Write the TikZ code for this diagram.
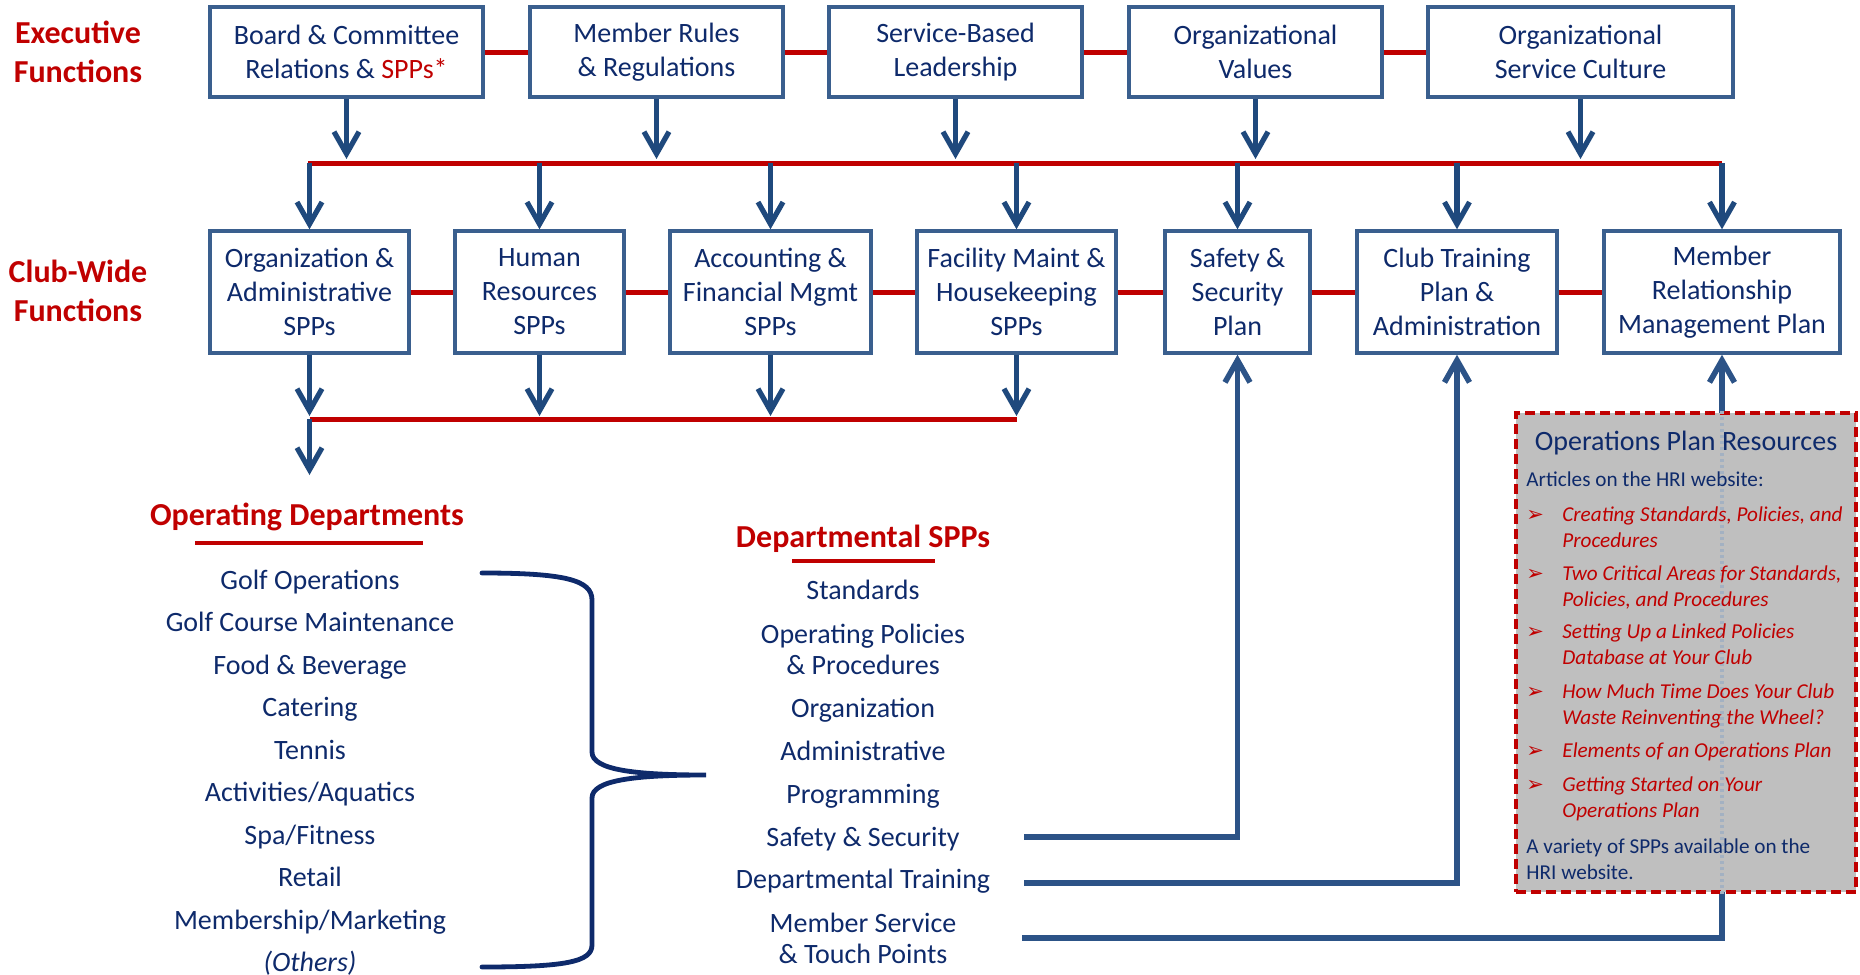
\documentclass[tikz,border=0pt]{standalone}
\usepackage{fontspec}
\setmainfont{Carlito}
\newfontfamily\symfont{DejaVu Sans}
\usetikzlibrary{arrows.meta}
\definecolor{navy}{HTML}{0E2A6B}
\definecolor{hred}{HTML}{C00000}
\definecolor{boxblue}{HTML}{3A5F8E}
\definecolor{arrblue}{HTML}{1F497D}
\definecolor{linkblue}{HTML}{2C5387}
\definecolor{graybg}{HTML}{BFBFBF}
\definecolor{dotgray}{HTML}{A3B1C2}
\begin{document}
\begin{tikzpicture}[x=0.5pt,y=-0.5pt,
 fbox/.style={draw=boxblue,line width=1.7pt,fill=white,align=center,text=navy,
   font=\fontsize{14}{17}\selectfont,inner sep=0pt},
 topbox/.style={fbox,minimum height=45pt},
 clubbox/.style={fbox,minimum height=61pt},
 wd/.style={minimum width=#1*0.5pt},
 redlink/.style={draw=hred,line width=2.5pt},
 arr/.style={draw=arrblue,line width=2.6pt,-{Straight Barb[length=11pt,width=12.5pt]}},
 link/.style={draw=linkblue,line width=2.8pt,-{Straight Barb[length=11pt,width=12.5pt]}},
 sidelabel/.style={text=hred,font=\bfseries\fontsize{16}{19.5}\selectfont,align=center,inner sep=0pt},
 head/.style={text=hred,font=\bfseries\fontsize{16}{19}\selectfont,inner sep=0pt},
 item/.style={text=navy,font=\fontsize{14}{15.5}\selectfont,align=center,inner sep=0pt},
 uline/.style={draw=hred,line width=2pt},
 brace/.style={draw=navy,line width=2.4pt,line cap=round},
 dashbox/.style={draw=hred,line width=2pt,dash pattern=on 5pt off 2.5pt,fill=graybg,inner sep=0pt},
 restext/.style={text=navy,font=\fontsize{10.6}{13}\selectfont,inner sep=0pt,align=left},
 resitem/.style={text=hred,font=\itshape\fontsize{10.6}{13}\selectfont,inner sep=0pt,align=left},
 bullet/.style={text=hred,font=\symfont\fontsize{10.5}{12}\selectfont,inner sep=0pt},
]
\useasboundingbox (0,0) rectangle (1860,975);

% side labels (base = last line baseline)
\node[sidelabel,anchor=base] (exec) at (78,82) {Executive\\Functions};
\node[sidelabel,anchor=base] (clubw) at (78,321) {Club-Wide\\Functions};

% executive boxes
\node[topbox,wd=273] (board) at (346.5,52) {Board \& Committee\\Relations \& \textcolor{hred}{SPPs*}};
\node[topbox,wd=253] (rules) at (656.5,52) {Member Rules\\\& Regulations};
\node[topbox,wd=253] (lead) at (955.5,52) {Service-Based\\Leadership};
\node[topbox,wd=253] (values) at (1255.5,52) {Organizational\\Values};
\node[topbox,wd=305] (culture) at (1580.5,52) {Organizational\\Service Culture};
\draw[redlink] (board.east) -- (rules.west);
\draw[redlink] (rules.east) -- (lead.west);
\draw[redlink] (lead.east) -- (values.west);
\draw[redlink] (values.east) -- (culture.west);

% club-wide boxes
\node[clubbox,wd=199] (orgadm) at (309.5,292) {Organization \&\\Administrative\\SPPs};
\node[clubbox,wd=169] (hr) at (539.5,292) {Human\\Resources\\SPPs};
\node[clubbox,wd=201] (acct) at (770.5,292) {Accounting \&\\Financial Mgmt\\SPPs};
\node[clubbox,wd=199] (facil) at (1016.5,292) {Facility Maint \&\\Housekeeping\\SPPs};
\node[clubbox,wd=145] (safety) at (1237.5,292) {Safety \&\\Security\\Plan};
\node[clubbox,wd=200] (train) at (1457,292) {Club Training\\Plan \&\\Administration};
\node[clubbox,wd=236] (memrel) at (1722,292) {Member\\Relationship\\Management Plan};
\draw[redlink] (orgadm.east) -- (hr.west);
\draw[redlink] (hr.east) -- (acct.west);
\draw[redlink] (acct.east) -- (facil.west);
\draw[redlink] (facil.east) -- (safety.west);
\draw[redlink] (safety.east) -- (train.west);
\draw[redlink] (train.east) -- (memrel.west);

% bus A
\coordinate (busAL) at (308,163);
\coordinate (busAR) at (1722,163);
\coordinate (tipA) at (0,159);
\draw[redlink] (busAL) -- (busAR);
\foreach \n in {board,rules,lead,values,culture}
  \draw[arr] (\n.south) -- (\n.south |- tipA);
\foreach \n in {orgadm,hr,acct,facil,safety,train,memrel}
  \draw[arr] (\n.north |- busAL) -- (\n.north);

% bus B
\coordinate (busBL) at (309.5,419);
\coordinate (busBR) at (1016.5,419);
\coordinate (tipB) at (0,416);
\coordinate (opin) at (309.5,475);
\draw[redlink] (busBL) -- (busBR);
\foreach \n in {orgadm,hr,acct,facil}
  \draw[arr] (\n.south) -- (\n.south |- tipB);
\draw[arr] (busBL) -- (opin);

% operating departments
\node[head,anchor=base] (ophead) at (307,525) {Operating Departments};
\draw[uline] (195,543) -- (423,543);
\node[item,anchor=base] (d1) at (310,589) {Golf Operations};
\node[item,anchor=base] (d2) at (310,631.5) {Golf Course Maintenance};
\node[item,anchor=base] (d3) at (310,674) {Food \& Beverage};
\node[item,anchor=base] (d4) at (310,716.5) {Catering};
\node[item,anchor=base] (d5) at (310,759) {Tennis};
\node[item,anchor=base] (d6) at (310,801.5) {Activities/Aquatics};
\node[item,anchor=base] (d7) at (310,844) {Spa/Fitness};
\node[item,anchor=base] (d8) at (310,886.5) {Retail};
\node[item,anchor=base] (d9) at (310,929) {Membership/Marketing};
\node[item,anchor=base] (d10) at (310,971) {\itshape(Others)};

% brace
\draw[brace] (482,573) .. controls (565,573) and (592,580) .. (592,600)
  -- (592,752) .. controls (592,770) and (635,775) .. (706,775)
  .. controls (635,775) and (592,780) .. (592,798)
  -- (592,945) .. controls (592,962) and (565,967) .. (482,967);

% departmental SPPs
\node[head,anchor=base] (dephead) at (863,547) {Departmental SPPs};
\draw[uline] (792,561) -- (935,561);
\node[item,anchor=base] (s1) at (863,599) {Standards};
\node[item,anchor=base] (s2) at (863,674) {Operating Policies\\\& Procedures};
\node[item,anchor=base] (s3) at (863,717) {Organization};
\node[item,anchor=base] (s4) at (863,760) {Administrative};
\node[item,anchor=base] (s5) at (863,803) {Programming};
\node[item,anchor=base] (s6) at (863,846) {Safety \& Security};
\node[item,anchor=base] (s7) at (863,888) {Departmental Training};
\node[item,anchor=base] (s8) at (863,963) {Member Service\\\& Touch Points};

% links up
\coordinate (l1) at (1024,837);
\coordinate (l2) at (1024,883);
\coordinate (l3) at (1022,938);
\draw[link] (l1) -| (safety.south);
\draw[link] (l2) -| (train.south);
\draw[link] (l3) -| (memrel.south);

% resources box
\node[dashbox,minimum width=340*0.5pt,minimum height=479*0.5pt] (res) at (1686,652.5) {};
\draw[dotgray,line width=2pt,dash pattern=on 1.5pt off 1.5pt] (res.north -| memrel.south) -- (res.south -| memrel.south);
\node[anchor=base,text=navy,font=\fontsize{14}{17}\selectfont,inner sep=0pt] (restitle) at (1686,450) {Operations Plan Resources};
\node[restext,anchor=base west] (resart) at (1526,486) {Articles on the HRI website:};
\node[bullet,anchor=base west] (b1) at (1526,521) {➢};
\node[resitem,anchor=base west] (r1) at (1562,547) {Creating Standards, Policies, and\\Procedures};
\node[bullet,anchor=base west] (b2) at (1526,580) {➢};
\node[resitem,anchor=base west] (r2) at (1562,606) {Two Critical Areas for Standards,\\Policies, and Procedures};
\node[bullet,anchor=base west] (b3) at (1526,638) {➢};
\node[resitem,anchor=base west] (r3) at (1562,664) {Setting Up a Linked Policies\\Database at Your Club};
\node[bullet,anchor=base west] (b4) at (1526,698) {➢};
\node[resitem,anchor=base west] (r4) at (1562,724) {How Much Time Does Your Club\\Waste Reinventing the Wheel?};
\node[bullet,anchor=base west] (b5) at (1526,757) {➢};
\node[resitem,anchor=base west] (r5) at (1562,757) {Elements of an Operations Plan};
\node[bullet,anchor=base west] (b6) at (1526,791) {➢};
\node[resitem,anchor=base west] (r6) at (1562,817) {Getting Started on Your\\Operations Plan};
\node[restext,anchor=base west] (resvar) at (1526,879) {A variety of SPPs available on the\\HRI website.};
\end{tikzpicture}
\end{document}
